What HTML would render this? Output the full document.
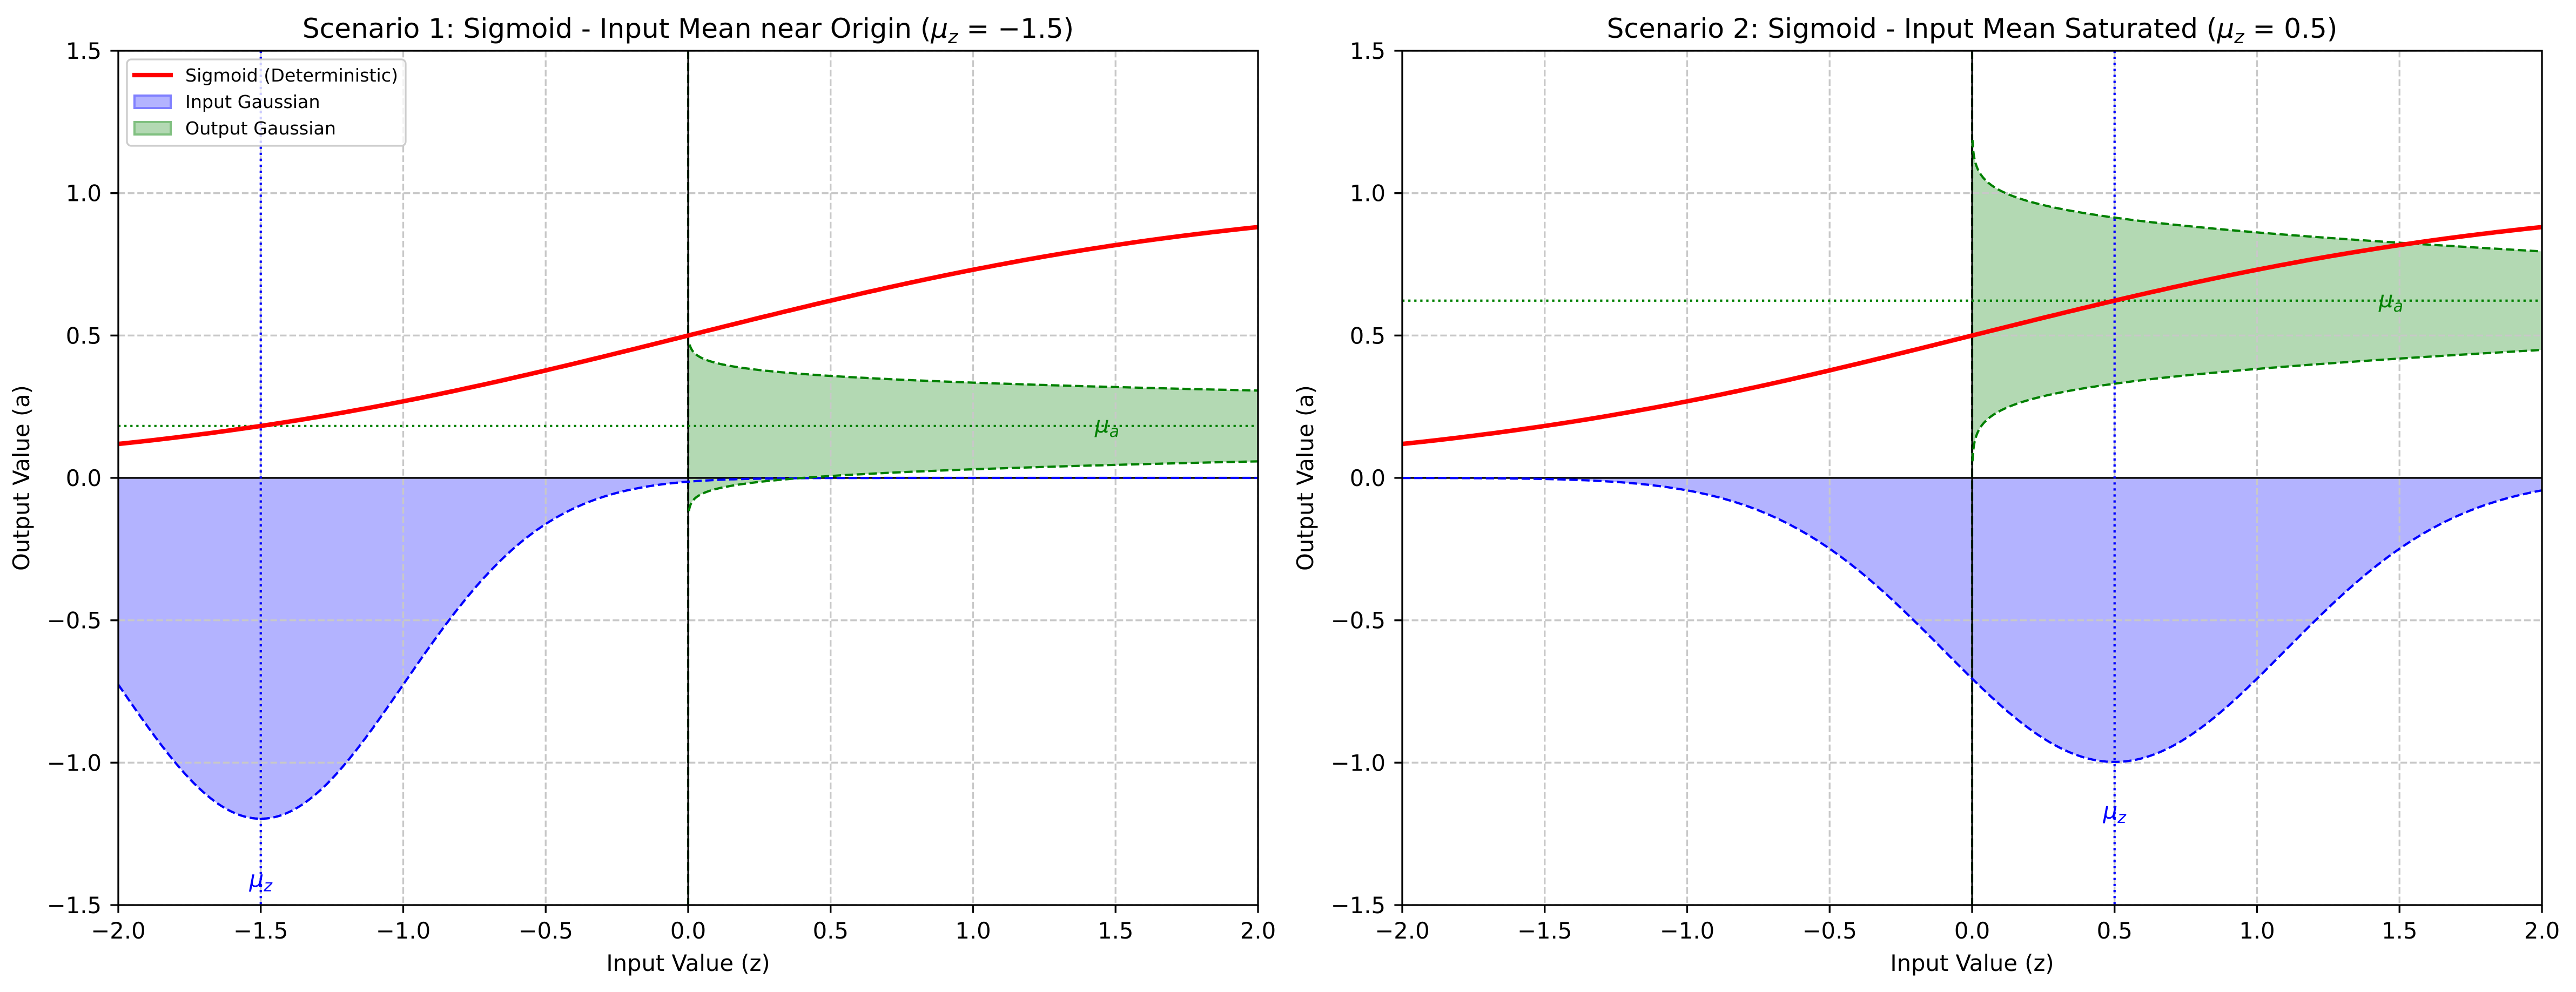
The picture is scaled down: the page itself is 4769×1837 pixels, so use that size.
<!DOCTYPE html>
<html><head><meta charset="utf-8">
<style>
html,body{margin:0;padding:0;background:#fff;}
svg{display:block;font-family:"DejaVu Sans","Liberation Sans",sans-serif;}
</style></head>
<body>
<svg id="s" xmlns="http://www.w3.org/2000/svg" width="4769" height="1837" viewBox="0 0 4769 1837"></svg>
<script>
(function(){
var svg=document.getElementById('s');
var T=94,H=1582,W=2110;
var out='';
function Y(y){return T+(1.5-y)*H/3;}
function pdf(x,m,s){return Math.exp(-(x-m)*(x-m)/(2*s*s))/(s*Math.sqrt(2*Math.PI));}
function sig(z){return 1/(1+Math.exp(-z));}
function fmt(v){var s=v.toFixed(1);return v<0?'\u2212'+s.slice(1):s;}
var axes=[{x0:219,mz:-1.5,sz:0.5,title:'Scenario 1: Sigmoid - Input Mean near Origin (',val:'\u22121.5',lab:-1.41,legend:true},
          {x0:2596,mz:0.5,sz:0.6,title:'Scenario 2: Sigmoid - Input Mean Saturated (',val:'0.5',lab:-1.17,legend:false}];
axes.forEach(function(a,i){
  var X=function(x){return a.x0+(x+2)*W/4;};
  var id='c'+i;
  out+='<clipPath id="'+id+'"><rect x="'+a.x0+'" y="'+T+'" width="'+W+'" height="'+H+'"/></clipPath>';
  out+='<g clip-path="url(#'+id+')">';
  var p=[],k,z;
  for(k=0;k<=400;k++){z=-2+4*k/400;p.push(X(z).toFixed(1)+','+Y(-1.5*pdf(z,a.mz,a.sz)).toFixed(1));}
  out+='<path d="M'+X(-2)+','+Y(0)+' L'+p.join(' L')+' L'+X(2)+','+Y(0)+'Z" fill="#b3b3ff"/>';
  var ma=sig(a.mz), sa=sig(a.mz)*(1-sig(a.mz))*a.sz;
  var q=[],y;
  for(k=0;k<=800;k++){y=ma-4*sa+8*sa*k/800;q.push(X(1.5*pdf(y,ma,sa)).toFixed(1)+','+Y(y).toFixed(1));}
  out+='<path d="M'+X(0)+','+Y(ma-4*sa)+' L'+q.join(' L')+' L'+X(0)+','+Y(ma+4*sa)+'Z" fill="#b3d9b3"/>';
  var g='';
  for(k=0;k<=8;k++){var xv=X(-2+k*0.5);g+='M'+xv+','+T+'V'+(T+H);}
  for(k=0;k<=6;k++){var yv=Y(-1.5+k*0.5);g+='M'+a.x0+','+yv+'H'+(a.x0+W);}
  out+='<path d="'+g+'" stroke="#c8c8c8" stroke-width="3.3" stroke-dasharray="12.3,5.3" fill="none"/>';
  out+='<path d="M'+a.x0+','+Y(0)+'H'+(a.x0+W)+'" stroke="#000" stroke-width="3.3"/>';
  out+='<path d="M'+X(0)+','+T+'V'+(T+H)+'" stroke="#006400" stroke-width="4.2" stroke-dasharray="15.4,6.7"/>';
  out+='<path d="M'+X(0)+','+T+'V'+(T+H)+'" stroke="#000" stroke-width="3"/>';
  out+='<path d="M'+p.join(' L')+'" stroke="#0000ff" stroke-width="4.2" fill="none" stroke-dasharray="15.4,6.7"/>';
  out+='<path d="M'+q.join(' L')+'" stroke="#008000" stroke-width="4.2" fill="none" stroke-dasharray="15.4,6.7"/>';
  out+='<path d="M'+X(a.mz)+','+T+'V'+(T+H)+'" stroke="#0000ff" stroke-width="4.2" stroke-dasharray="4.2,6.9"/>';
  out+='<path d="M'+a.x0+','+Y(ma)+'H'+(a.x0+W)+'" stroke="#008000" stroke-width="4.2" stroke-dasharray="4.2,6.9"/>';
  var r=[];
  for(k=0;k<=200;k++){z=-2+4*k/200;r.push(X(z).toFixed(1)+','+Y(sig(z)).toFixed(1));}
  out+='<path d="M'+r.join(' L')+'" stroke="#ff0000" stroke-width="8.3" fill="none"/>';
  out+='</g>';
  out+='<text x="'+X(a.mz)+'" y="'+(Y(a.lab)+14)+'" font-size="42" fill="#0000ff" text-anchor="middle" font-style="italic">\u03bc<tspan font-size="30" dy="8">z</tspan></text>';
  out+='<text x="'+(X(1.47))+'" y="'+(Y(ma)+12)+'" font-size="42" fill="#008000" text-anchor="middle" font-style="italic">\u03bc<tspan font-size="30" dy="8">a</tspan></text>';
  out+='<rect x="'+a.x0+'" y="'+T+'" width="'+W+'" height="'+H+'" fill="none" stroke="#000" stroke-width="3.3"/>';
  var t='';
  for(k=0;k<=8;k++){var xv2=X(-2+k*0.5);t+='M'+xv2+','+(T+H)+'v14.6';
    out+='<text x="'+xv2+'" y="1738" font-size="41.7" text-anchor="middle">'+fmt(-2+k*0.5)+'</text>';}
  for(k=0;k<=6;k++){var yv2=Y(-1.5+k*0.5);t+='M'+a.x0+','+yv2+'h-14.6';
    out+='<text x="'+(a.x0-31)+'" y="'+(yv2+15)+'" font-size="41.7" text-anchor="end">'+fmt(-1.5+k*0.5)+'</text>';}
  out+='<path d="'+t+'" stroke="#000" stroke-width="3.3"/>';
  out+='<text x="'+(a.x0+W/2)+'" y="1798" font-size="41.7" text-anchor="middle">Input Value (z)</text>';
  var lx=a.x0-165;
  out+='<text transform="translate('+lx+','+(T+H/2)+') rotate(-90)" font-size="41.7" text-anchor="middle">Output Value (a)</text>';
  out+='<text x="'+(a.x0+W/2)+'" y="70" font-size="50" text-anchor="middle">'+a.title+'<tspan font-style="italic">\u03bc</tspan><tspan font-style="italic" font-size="35" dy="10">z</tspan><tspan dy="-10"> = '+a.val+')</tspan></text>';
  if(a.legend){
    out+='<rect x="235" y="110" width="516" height="160" rx="8" fill="#fff" fill-opacity="0.8" stroke="#cccccc" stroke-width="3.3"/>';
    out+='<path d="M245,139H320" stroke="#ff0000" stroke-width="8.3"/>';
    out+='<rect x="249" y="177" width="67" height="23" fill="#b3b3ff" stroke="#8080ff" stroke-width="4"/>';
    out+='<rect x="249" y="226" width="67" height="23" fill="#b3d9b3" stroke="#80c080" stroke-width="4"/>';
    out+='<text x="343" y="151" font-size="33.3">Sigmoid (Deterministic)</text>';
    out+='<text x="343" y="200" font-size="33.3">Input Gaussian</text>';
    out+='<text x="343" y="249" font-size="33.3">Output Gaussian</text>';
  }
});
svg.innerHTML=out;
})();
</script>
</body></html>
